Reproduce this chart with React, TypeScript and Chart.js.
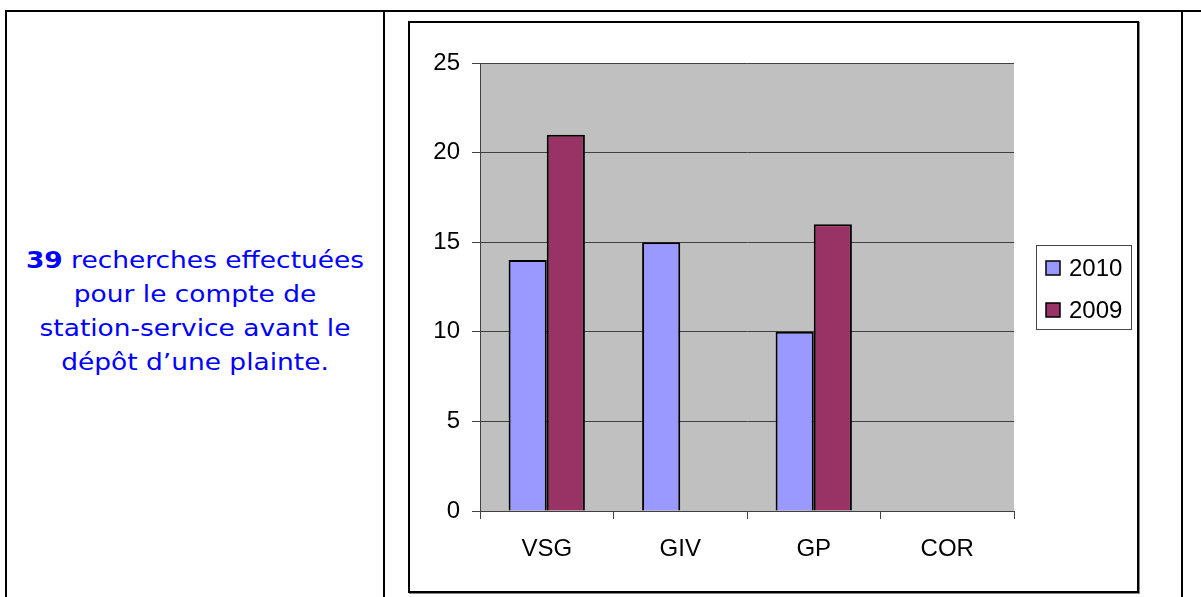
import React, { useEffect, useRef } from "react";
import { Chart, registerables } from "chart.js";

Chart.register(...registerables);

const categories = ["VSG", "GIV", "GP", "COR"];
const seriesLabels = ["2010", "2009"];
const values2010: (number | null)[] = [14, 15, 10, null];
const values2009: (number | null)[] = [21, null, 16, null];
const yTickValues = [0, 5, 10, 15, 20, 25];
const colors = ["#9999FF", "#993366"];

const FONT = "'Liberation Sans', Arial, sans-serif";

const plotBg = {
  id: "plotBg",
  beforeDraw(chart: any) {
    const { ctx, chartArea } = chart;
    ctx.save();
    ctx.fillStyle = "#C0C0C0";
    ctx.fillRect(chartArea.left, chartArea.top, chartArea.right - chartArea.left, chartArea.bottom - chartArea.top);
    ctx.restore();
  },
};

const boxLegend = {
  id: "boxLegend",
  afterDraw(chart: any) {
    const { ctx, chartArea } = chart;
    const left = chartArea.right + 22;
    const top = chartArea.top + 182;
    const w = 95;
    const h = 84;
    ctx.save();
    ctx.fillStyle = "#fff";
    ctx.fillRect(left, top, w, h);
    ctx.strokeStyle = "#444";
    ctx.lineWidth = 1;
    ctx.strokeRect(left + 0.5, top + 0.5, w, h);
    chart.data.datasets.forEach((ds: any, i: number) => {
      const sx = left + 10;
      const sy = top + 16 + i * 42;
      ctx.fillStyle = ds.backgroundColor;
      ctx.fillRect(sx, sy, 14, 14);
      ctx.strokeStyle = "#000";
      ctx.lineWidth = 1.5;
      ctx.strokeRect(sx, sy, 14, 14);
      ctx.fillStyle = "#000";
      ctx.font = `24px ${FONT}`;
      ctx.textBaseline = "middle";
      ctx.textAlign = "left";
      ctx.fillText(ds.label, left + 33, sy + 8);
    });
    ctx.restore();
  },
};

function ChartBox() {
  const ref = useRef<HTMLCanvasElement | null>(null);
  useEffect(() => {
    if (!ref.current) return;
    const chart = new Chart(ref.current, {
      type: "bar",
      data: {
        labels: categories,
        datasets: [
          {
            label: seriesLabels[0],
            data: values2010,
            backgroundColor: colors[0],
            borderColor: "#000",
            borderWidth: 2,
            categoryPercentage: 2 / 3.5,
            barPercentage: 1,
          },
          {
            label: seriesLabels[1],
            data: values2009,
            backgroundColor: colors[1],
            borderColor: "#000",
            borderWidth: 2,
            categoryPercentage: 2 / 3.5,
            barPercentage: 1,
          },
        ],
      },
      options: {
        responsive: false,
        animation: false,
        devicePixelRatio: 1,
        layout: { padding: { top: 40, right: 123, left: 0, bottom: 0 } },
        plugins: { legend: { display: false }, tooltip: { enabled: false } },
        scales: {
          x: {
            offset: true,
            grid: {
              display: true,
              offset: true,
              drawOnChartArea: false,
              drawTicks: true,
              tickLength: 8,
              color: "#404040",
              lineWidth: 1,
            },
            border: { display: true, color: "#404040", width: 1 },
            ticks: { color: "#000", font: { family: FONT, size: 24 }, padding: 16 },
            afterFit: (s: any) => {
              s.height = 80;
            },
          },
          y: {
            min: 0,
            max: 25,
            afterBuildTicks: (s: any) => {
              s.ticks = yTickValues.map((v) => ({ value: v }));
            },
            grid: { color: "#404040", lineWidth: 1, tickLength: 8 },
            border: { display: true, color: "#404040", width: 1 },
            ticks: { color: "#000", font: { family: FONT, size: 24 }, padding: 12 },
            afterFit: (s: any) => {
              s.width = 70;
            },
          },
        },
      },
      plugins: [plotBg, boxLegend],
    });
    return () => chart.destroy();
  }, []);
  return <canvas ref={ref} width={727} height={568} style={{ display: "block", width: 727, height: 568 }} />;
}

export default function App() {
  const line = (style: React.CSSProperties) => (
    <div style={{ position: "absolute", background: "#000", ...style }} />
  );
  return (
    <div style={{ position: "absolute", left: 0, top: 0, width: 1201, height: 597, background: "#fff", overflow: "hidden" }}>
      {line({ left: 5, top: 10, width: 1196, height: 2 })}
      {line({ left: 5, top: 10, width: 2, height: 587 })}
      {line({ left: 383, top: 10, width: 2, height: 587 })}
      {line({ left: 1181, top: 10, width: 2, height: 587 })}
      <div
        style={{
          position: "absolute",
          left: 7,
          width: 376,
          top: 243,
          textAlign: "center",
          color: "#0000FF",
          fontFamily: "'DejaVu Sans', Verdana, sans-serif",
          fontSize: 23,
          lineHeight: "34px",
          transform: "scaleX(1.15)",
          transformOrigin: "188px 0",
        }}
      >
        <b>39</b> recherches effectuées
        <br />
        pour le compte de
        <br />
        station-service avant le
        <br />
        dépôt d’une plainte.
      </div>
      <div
        style={{
          position: "absolute",
          left: 408,
          top: 21,
          width: 731,
          height: 572,
          border: "2px solid #000",
          boxSizing: "border-box",
          boxShadow: "1px 1px 0 #888",
          background: "#fff",
        }}
      >
        <ChartBox />
      </div>
    </div>
  );
}
